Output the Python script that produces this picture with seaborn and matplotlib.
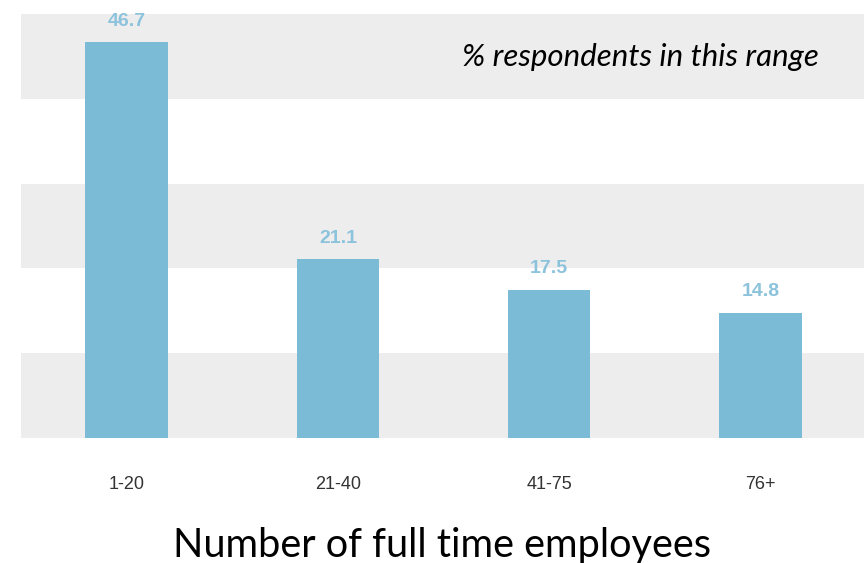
import pandas as pd
import matplotlib
matplotlib.use("Agg")
import matplotlib.pyplot as plt
import seaborn as sns

# data
ranges = ["1-20", "21-40", "41-75", "76+"]
percent = [46.7, 21.1, 17.5, 14.8]
band_edges = [0, 10, 20, 30, 40, 50]

df = pd.DataFrame({"range": ranges, "percent": percent})

sns.set_theme(style="white")
plt.rcParams["font.family"] = ["Liberation Sans", "DejaVu Sans"]

fig = plt.figure(figsize=(8.64, 5.63), dpi=100)
ax = fig.add_axes([0.0243, 0.222, 0.9757, 0.753])

# alternating grey bands instead of gridlines
for i in range(0, len(band_edges) - 1, 2):
    ax.axhspan(band_edges[i], band_edges[i + 1], color="#ededed", zorder=0, lw=0)

sns.barplot(data=df, x="range", y="percent", color="#7bbbd6", saturation=1,
            width=0.39, linewidth=0, ax=ax, zorder=2)

for container in ax.containers:
    ax.bar_label(container, fmt="{:.1f}", padding=9, fontsize=14,
                 fontweight="bold", color="#8cc3dc")

ax.set_ylim(0, 50)
ax.set_xlim(-0.5, 3.49)
ax.set_yticks([])
ax.set_ylabel("")
ax.set_xlabel("Number of full time employees", fontsize=28.6, family="Lato",
              color="black", labelpad=25)
ax.tick_params(axis="x", length=0, pad=27, labelsize=13, labelcolor="#333333")
for s in ax.spines.values():
    s.set_visible(False)

ax.text(0.946, 0.898, "% respondents in this range", transform=ax.transAxes,
        ha="right", va="center", fontsize=22.5, style="italic", family="Lato",
        color="black")

fig.savefig("out.png", dpi=100)
